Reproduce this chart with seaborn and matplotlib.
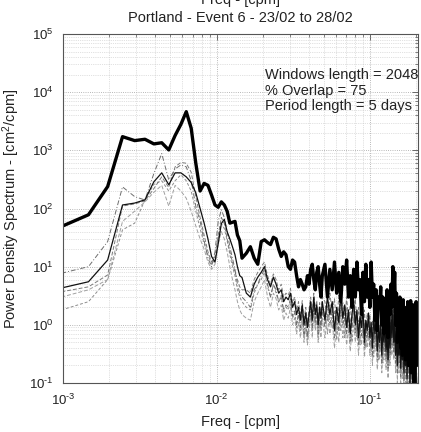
import numpy as np
import pandas as pd
import matplotlib
matplotlib.use("Agg")
import matplotlib.pyplot as plt
import matplotlib.ticker as mticker
import seaborn as sns

# ---------------- data ----------------
window_length = 2048
bins = list(range(2, 31)) + list(range(32, 101, 2)) + list(range(104, 413, 4))

psd_event = [
    49, 78, 238, 1718, 1470, 1550, 1290, 1350, 1016, 1800, 2800, 4620, 2400, 600, 200,
    270, 250, 170, 115, 105, 130, 115, 90, 56, 58, 60, 35, 28, 14,
    17, 22, 14, 11, 27, 29, 26, 24, 32, 30, 20, 15, 18, 16, 10, 9, 13, 12, 7, 4.5,
    6, 5, 4, 4.5, 7, 5, 9, 11, 6, 4, 8, 10, 5, 3, 7,
    11, 3, 9, 4, 12, 3.5, 8, 2.5, 10, 5, 13, 3,
    7, 2, 9, 3, 12, 4, 6, 1.5, 8, 2.5, 11, 3, 6,
    2, 12, 3, 5, 1.2, 4, 0.8, 3, 2, 4.5, 1, 3, 0.7,
    2.8, 1, 4, 0.6, 3, 1.5, 5, 2, 10, 3, 8, 1,
    3.5, 0.5, 2.5, 1, 3, 0.4, 2, 0.3, 2.7, 0.6, 2, 0.25,
    1.8, 0.4, 2.5, 0.2, 1.5, 0.3, 2.6, 0.15, 1.2, 0.5, 2.2, 0.1, 1, 0.3, 2.5, 0.2,
]

psd_mean = [
    4.3, 5.5, 13, 115, 124, 141, 288, 410, 256, 410, 410, 350, 280, 186, 100,
    56, 30, 15, 12, 25, 55, 65, 40, 30, 22, 16, 10, 7, 6.5,
    3.5, 3, 5, 6.6, 8, 10, 6, 4.5, 6.6, 5, 3.5, 4, 2.5, 3, 2.7, 3.5, 2, 2.5, 1.5,
    2, 1.2, 2.2, 1, 1.6, 0.9, 1.5, 2.5, 1.2, 3, 1.5, 2.2, 1, 2, 1.3, 2.5,
    1.2, 3, 1.5, 2.5, 0.8, 2, 1.1, 3.5, 1.3, 2.2, 0.9, 1.8,
    0.7, 1.5, 2.6, 1, 1.8, 0.6, 1.4, 0.9, 2, 0.5, 1.2, 0.8, 1.6,
    0.6, 1.1, 0.4, 1.5, 0.7, 1.2, 0.35, 0.9, 0.5, 1.3, 0.3, 0.8, 0.5,
    1.1, 0.35, 0.7, 0.25, 0.9, 0.4, 1.5, 0.6, 2, 0.5, 1, 0.3,
    0.8, 0.2, 0.6, 0.3, 0.9, 0.18, 0.5, 0.25, 0.7, 0.15, 0.45, 0.2,
    0.6, 0.12, 0.4, 0.2, 0.5, 0.09, 0.35, 0.15, 0.45, 0.08, 0.3, 0.12, 0.25, 0.07, 0.2, 0.1,
]

psd_a = [
    7.7, 10, 27, 235, 160, 140, 400, 880, 310, 480, 560, 520, 300, 110, 60,
    28, 14, 10, 18, 60, 95, 70, 40, 22, 14, 9, 5, 3.5, 3,
    2.5, 2, 4, 5, 7, 9, 5, 3, 5, 4, 2.5, 3, 1.8, 2.2, 2, 2.8, 1.4, 1.8, 1,
    1.6, 0.9, 1.7, 0.7, 1.3, 0.6, 1.2, 2, 0.9, 2.4, 1.1, 1.8, 0.7, 1.5, 0.9, 1.9,
    0.9, 2.2, 1, 1.8, 0.6, 1.5, 0.8, 2.6, 1, 1.6, 0.7, 1.3,
    0.5, 1.1, 1.9, 0.7, 1.3, 0.45, 1, 0.65, 1.5, 0.4, 0.9, 0.6, 1.2,
    0.45, 0.8, 0.3, 1.1, 0.5, 0.9, 0.25, 0.65, 0.35, 1, 0.22, 0.6, 0.35,
    0.8, 0.25, 0.5, 0.18, 0.65, 0.3, 1.1, 0.45, 1.5, 0.35, 0.75, 0.22,
    0.6, 0.15, 0.45, 0.22, 0.65, 0.13, 0.38, 0.18, 0.5, 0.11, 0.33, 0.15,
    0.45, 0.09, 0.3, 0.15, 0.38, 0.07, 0.26, 0.11, 0.33, 0.06, 0.22, 0.09, 0.19, 0.05, 0.15, 0.08,
]

psd_b = [
    3.7, 4.5, 7.2, 110, 120, 135, 220, 350, 230, 520, 620, 600, 420, 160, 70,
    35, 18, 12, 15, 35, 70, 55, 30, 18, 12, 8, 6, 4.5, 4,
    4, 3.5, 6, 8, 10, 12, 7, 5, 7.5, 6, 4, 5, 3, 3.5, 3.2, 4.2, 2.4, 3, 1.8,
    2.5, 1.4, 2.6, 1.2, 2, 1.1, 1.8, 3, 1.4, 3.5, 1.8, 2.6, 1.2, 2.4, 1.5, 3,
    2.5, 1.2, 3.5, 1.6, 2.8, 1, 3.2, 1.4, 2.4, 1.1, 3, 1.2,
    2.2, 0.9, 1.6, 2.8, 1, 2, 0.8, 2.4, 1, 1.8, 0.7, 1.6, 1,
    1.5, 0.6, 1.2, 0.5, 1.8, 0.7, 1.3, 0.45, 1, 0.6, 1.4, 0.4, 1,
    0.5, 1.2, 0.4, 0.9, 0.35, 1.1, 0.5, 1.8, 0.7, 2.2, 0.6, 1.2,
    0.4, 0.9, 0.3, 0.75, 0.4, 1, 0.25, 0.6, 0.3, 0.8, 0.2, 0.55,
    0.3, 0.7, 0.18, 0.5, 0.25, 0.6, 0.12, 0.42, 0.2, 0.5, 0.1, 0.36, 0.15, 0.3, 0.09, 0.25,
]

psd_c = [
    3.0, 4.0, 6.0, 60, 90, 130, 190, 250, 110, 250, 200, 150, 90, 50, 30,
    20, 12, 9, 11, 25, 40, 30, 18, 10, 6, 4, 2.5, 1.8, 1.5,
    1.3, 1.2, 2.5, 3.5, 4.5, 6, 3, 2, 3.5, 2.8, 1.8, 2.2, 1.2, 1.6, 1.3, 2, 1, 1.3, 0.7,
    1.1, 0.6, 1.2, 0.5, 0.9, 0.45, 0.8, 1.4, 0.6, 1.6, 0.8, 1.2, 0.5, 1, 0.6, 1.3,
    0.6, 1.5, 0.7, 1.2, 0.4, 1, 0.5, 1.8, 0.6, 1.1, 0.45, 0.9,
    0.35, 0.8, 1.3, 0.5, 0.9, 0.3, 0.7, 0.45, 1, 0.28, 0.6, 0.4, 0.8,
    0.3, 0.55, 0.2, 0.75, 0.35, 0.6, 0.17, 0.45, 0.25, 0.65, 0.15, 0.4, 0.25,
    0.55, 0.17, 0.35, 0.12, 0.45, 0.2, 0.75, 0.3, 1, 0.25, 0.5, 0.15,
    0.4, 0.1, 0.3, 0.15, 0.45, 0.09, 0.25, 0.12, 0.35, 0.08, 0.22, 0.1,
    0.3, 0.06, 0.2, 0.1, 0.25, 0.05, 0.18, 0.08, 0.22, 0.045, 0.15, 0.06, 0.13, 0.04, 0.1, 0.05,
]

psd_d = [
    1.8, 2.5, 6.0, 43, 56, 140, 260, 300, 200, 300, 380, 300, 200, 90, 45,
    25, 16, 11, 13, 30, 55, 45, 28, 16, 10, 7, 4, 3, 2.5,
    2, 1.8, 3.5, 5, 6, 8, 4.5, 3, 5, 3.5, 2.4, 3.2, 1.6, 2, 1.8, 2.5, 1.3, 1.6, 0.9,
    1.5, 0.8, 1.4, 0.6, 1.1, 0.55, 1, 1.7, 0.8, 2, 1, 1.5, 0.6, 1.3, 0.8, 1.6,
    1.6, 0.7, 2.2, 0.9, 1.8, 0.55, 2, 0.8, 1.5, 0.6, 1.9, 0.7,
    1.3, 0.5, 1, 1.7, 0.6, 1.2, 0.45, 1.5, 0.6, 1.1, 0.4, 1, 0.55,
    0.9, 0.35, 0.75, 0.28, 1.1, 0.4, 0.8, 0.25, 0.6, 0.35, 0.85, 0.22, 0.6,
    0.3, 0.75, 0.22, 0.55, 0.2, 0.65, 0.3, 1.1, 0.4, 1.3, 0.35, 0.7,
    0.25, 0.55, 0.18, 0.45, 0.22, 0.6, 0.15, 0.38, 0.18, 0.5, 0.12, 0.33,
    0.18, 0.42, 0.1, 0.3, 0.15, 0.36, 0.07, 0.25, 0.12, 0.3, 0.06, 0.22, 0.09, 0.18, 0.05, 0.15,
]

x_tick_exps = [-3, -2, -1]
y_tick_exps = [-1, 0, 1, 2, 3, 4, 5]

title_text = "Portland - Event 6 - 23/02 to 28/02"
x_label = "Freq - [cpm]"
y_label = "Power Density Spectrum - [cm$^2$/cpm]"
info_lines = ["Windows length = 2048", "% Overlap = 75", "Period length = 5 days"]

# ---------------- figure ----------------
sns.set_theme(style="white")
plt.rcParams["font.family"] = ["Liberation Sans", "DejaVu Sans"]
plt.rcParams["mathtext.fontset"] = "custom"
plt.rcParams["mathtext.rm"] = "Liberation Sans"
plt.rcParams["mathtext.it"] = "Liberation Sans:italic"
plt.rcParams["mathtext.bf"] = "Liberation Sans:bold"

W, H = 421, 432
fig = plt.figure(figsize=(W / 100, H / 100), dpi=100)
L, R, T, B = 63, 418, 34, 383
ax = fig.add_axes([L / W, 1 - B / H, (R - L) / W, (B - T) / H])

freq = np.array(bins) / window_length
series = [
    ("d", psd_d, (0, (3, 2)), "#8c8c8c", 0.7),
    ("c", psd_c, (0, (4, 2)), "#a0a0a0", 0.7),
    ("b", psd_b, (0, (4, 2)), "#7c7c7c", 0.7),
    ("a", psd_a, (0, (5, 2, 1, 2)), "#6e6e6e", 0.7),
    ("mean", psd_mean, "-", "#111111", 0.9),
    ("event", psd_event, "-", "#000000", 2.4),
]
for name, vals, ls, col, lw in series:
    df = pd.DataFrame({"freq": freq, "psd": vals})
    sns.lineplot(data=df, x="freq", y="psd", ax=ax, color=col, linestyle=ls,
                 linewidth=lw, sort=True, estimator=None)

ax.set_xscale("log")
ax.set_yscale("log")
ax.set_xlim(1e-3, 0.205)
ax.set_ylim(1e-1, 1e5)


def pow_label(e):
    if e < 0:
        return r"$10^{\text{-}%d}$" % abs(e)
    return r"$10^{%d}$" % e


ax.xaxis.set_major_locator(mticker.FixedLocator([10.0 ** e for e in x_tick_exps]))
ax.yaxis.set_major_locator(mticker.FixedLocator([10.0 ** e for e in y_tick_exps]))
ax.xaxis.set_major_formatter(mticker.FixedFormatter([pow_label(e) for e in x_tick_exps]))
ax.yaxis.set_major_formatter(mticker.FixedFormatter([pow_label(e) for e in y_tick_exps]))
ax.xaxis.set_minor_locator(mticker.LogLocator(base=10, subs=np.arange(2, 10), numticks=20))
ax.yaxis.set_minor_locator(mticker.LogLocator(base=10, subs=np.arange(2, 10), numticks=20))
ax.xaxis.set_minor_formatter(mticker.NullFormatter())
ax.yaxis.set_minor_formatter(mticker.NullFormatter())

ax.grid(True, which="major", linestyle=":", color="#a0a0a0", linewidth=0.6)
ax.grid(True, which="minor", linestyle=":", color="#c4c4c4", linewidth=0.5)
ax.set_axisbelow(True)

for sp in ax.spines.values():
    sp.set_color("#555555")
    sp.set_linewidth(0.8)
    sp.set_visible(True)

ax.tick_params(which="both", direction="in", top=True, right=True, colors="#555555",
               labelcolor="#222222", labelsize=9.5)
ax.tick_params(which="major", length=4, width=0.6, pad=7)
ax.tick_params(which="minor", length=2, width=0.5)

ax.set_xlabel(x_label, fontsize=10.5, color="#222222")
ax.set_ylabel(y_label, fontsize=10.5, color="#222222")
ax.xaxis.set_label_coords(0.5, -(415 - B) / (B - T))
ax.yaxis.set_label_coords(-(L - 22) / (R - L), 0.5)

cx = ((L + R) / 2) / W
fig.text(cx, 1 - 18 / H, title_text, ha="center", va="center", fontsize=10.5, color="#222222")
fig.text(cx, 1 - 4 / H, x_label, ha="center", va="baseline", fontsize=10.5, color="#222222")

ax.text((265 - L) / (R - L), (B - 68) / (B - T), "\n".join(info_lines),
        transform=ax.transAxes, ha="left", va="top", fontsize=10.5,
        linespacing=1.15, color="#222222")

fig.savefig("out.png", dpi=100, facecolor="white")
